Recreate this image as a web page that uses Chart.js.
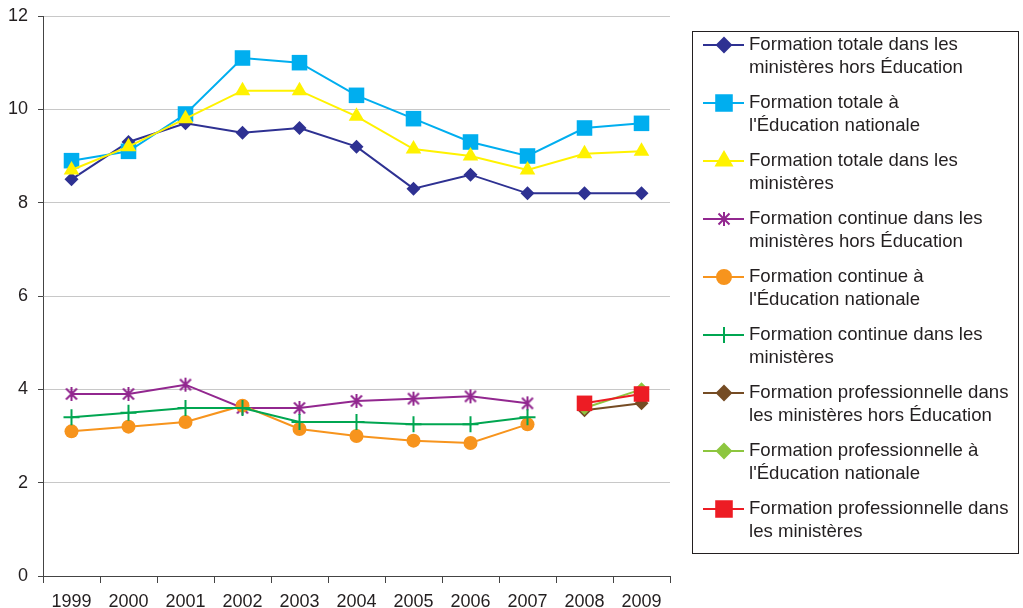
<!DOCTYPE html>
<html lang="fr">
<head>
<meta charset="UTF-8">
<title>Formation</title>
<script src="https://cdn.jsdelivr.net/npm/chart.js"></script>
<style>
  body { margin: 0; background: #fff; }
  #wrap { width: 1023px; height: 608px; }
</style>
</head>
<body>
<div id="wrap"><canvas id="chart" width="1023" height="608"></canvas></div>
<script>
  const years = ['1999', '2000', '2001', '2002', '2003', '2004', '2005', '2006', '2007', '2008', '2009'];
  const yTicks = [0, 2, 4, 6, 8, 10, 12];

  const totalHorsEdu = [8.5, 9.3, 9.7, 9.5, 9.6, 9.2, 8.3, 8.6, 8.2, 8.2, 8.2];
  const totalEdu = [8.9, 9.1, 9.9, 11.1, 11.0, 10.3, 9.8, 9.3, 9.0, 9.6, 9.7];
  const totalMin = [8.7, 9.2, 9.8, 10.4, 10.4, 9.85, 9.15, 9.0, 8.7, 9.05, 9.1];
  const contHorsEdu = [3.9, 3.9, 4.1, 3.6, 3.6, 3.75, 3.8, 3.85, 3.7, null, null];
  const contEdu = [3.1, 3.2, 3.3, 3.65, 3.15, 3.0, 2.9, 2.85, 3.25, null, null];
  const contMin = [3.4, 3.5, 3.6, 3.6, 3.3, 3.3, 3.25, 3.25, 3.4, null, null];
  const proHorsEdu = [null, null, null, null, null, null, null, null, null, 3.55, 3.7];
  const proEdu = [null, null, null, null, null, null, null, null, null, 3.6, 4.0];
  const proMin = [null, null, null, null, null, null, null, null, null, 3.7, 3.9];

  // six-armed asterisk marker (Excel style), Chart.js 'star' has eight arms
  function asterisk(color) {
    const c = document.createElement('canvas');
    c.width = 16; c.height = 16;
    const g = c.getContext('2d');
    g.strokeStyle = color;
    g.lineWidth = 2;
    g.beginPath();
    g.moveTo(8, 1); g.lineTo(8, 15);
    g.moveTo(2.5, 2.5); g.lineTo(13.5, 13.5);
    g.moveTo(13.5, 2.5); g.lineTo(2.5, 13.5);
    g.stroke();
    return c;
  }

  const series = [
    { label: ['Formation totale dans les', 'ministères hors Éducation'], data: totalHorsEdu, color: '#2e3192', style: 'rectRot', r: 7 },
    { label: ['Formation totale à', "l'Éducation nationale"], data: totalEdu, color: '#00aeef', style: 'rect', r: 11 },
    { label: ['Formation totale dans les', 'ministères'], data: totalMin, color: '#fff200', style: 'triangle', r: 9 },
    { label: ['Formation continue dans les', 'ministères hors Éducation'], data: contHorsEdu, color: '#92278f', style: asterisk('#92278f'), r: 8 },
    { label: ['Formation continue à', "l'Éducation nationale"], data: contEdu, color: '#f7941d', style: 'circle', r: 7 },
    { label: ['Formation continue dans les', 'ministères'], data: contMin, color: '#00a651', style: 'cross', r: 8 },
    { label: ['Formation professionnelle dans', 'les ministères hors Éducation'], data: proHorsEdu, color: '#754c24', style: 'rectRot', r: 7 },
    { label: ['Formation professionnelle à', "l'Éducation nationale"], data: proEdu, color: '#8dc63f', style: 'rectRot', r: 7 },
    { label: ['Formation professionnelle dans', 'les ministères'], data: proMin, color: '#ed1c24', style: 'rect', r: 11 }
  ];

  const FONT = '"Liberation Sans", Arial, sans-serif';

  // legend drawn by hand, two lines per entry
  const boxLegend = {
    id: 'boxLegend',
    afterDraw(chart) {
      const ctx = chart.ctx;
      ctx.save();
      ctx.strokeStyle = '#231f20';
      ctx.lineWidth = 1;
      ctx.strokeRect(692.5, 31.5, 326, 522);
      ctx.font = '18.6px ' + FONT;
      ctx.textBaseline = 'middle';
      ctx.textAlign = 'left';
      series.forEach((s, i) => {
        const y = 45 + i * 58;
        ctx.strokeStyle = s.color;
        ctx.lineWidth = 2;
        ctx.beginPath();
        ctx.moveTo(703, y);
        ctx.lineTo(744, y);
        ctx.stroke();
        ctx.fillStyle = s.color;
        Chart.helpers.drawPoint(ctx, { pointStyle: s.style, radius: s.r, rotation: 0, borderWidth: 2 }, 724, y);
        if (typeof s.style === 'string' && s.style !== 'cross') ctx.fill();
        ctx.fillStyle = '#231f20';
        ctx.fillText(s.label[0], 749, y);
        ctx.fillText(s.label[1], 749, y + 23);
      });
      ctx.restore();
    }
  };

  new Chart(document.getElementById('chart'), {
    type: 'line',
    data: {
      labels: years,
      datasets: series.map((s, i) => ({
        label: s.label.join(' '),
        data: s.data,
        borderColor: s.color,
        backgroundColor: s.color,
        pointBackgroundColor: s.color,
        pointBorderColor: s.color,
        pointStyle: s.style,
        pointRadius: s.r,
        pointBorderWidth: s.style === 'cross' ? 2 : 0,
        borderWidth: 2,
        tension: 0,
        spanGaps: false,
        order: series.length - i
      }))
    },
    options: {
      responsive: false,
      animation: false,
      layout: { padding: { left: 0, right: 353, top: 16, bottom: 0 } },
      plugins: { legend: { display: false }, tooltip: { enabled: false } },
      scales: {
        x: {
          offset: true,
          grid: { display: true, drawOnChartArea: false, offset: true, tickLength: 7, tickColor: '#444' },
          border: { color: '#444', width: 1 },
          ticks: { color: '#231f20', font: { family: FONT, size: 18 }, padding: 8, maxRotation: 0 },
          afterFit(scale) { scale.height = 32; }
        },
        y: {
          min: 0,
          max: 12,
          afterBuildTicks(scale) { scale.ticks = yTicks.map(v => ({ value: v })); },
          grid: { color: '#c8c8c8', tickColor: '#444', tickLength: 5 },
          border: { color: '#444', width: 1 },
          ticks: { color: '#231f20', font: { family: FONT, size: 18 }, padding: 10 },
          afterFit(scale) { scale.width = 43; scale.paddingTop = 0; scale.paddingBottom = 0; }
        }
      }
    },
    plugins: [boxLegend]
  });
</script>
</body>
</html>
